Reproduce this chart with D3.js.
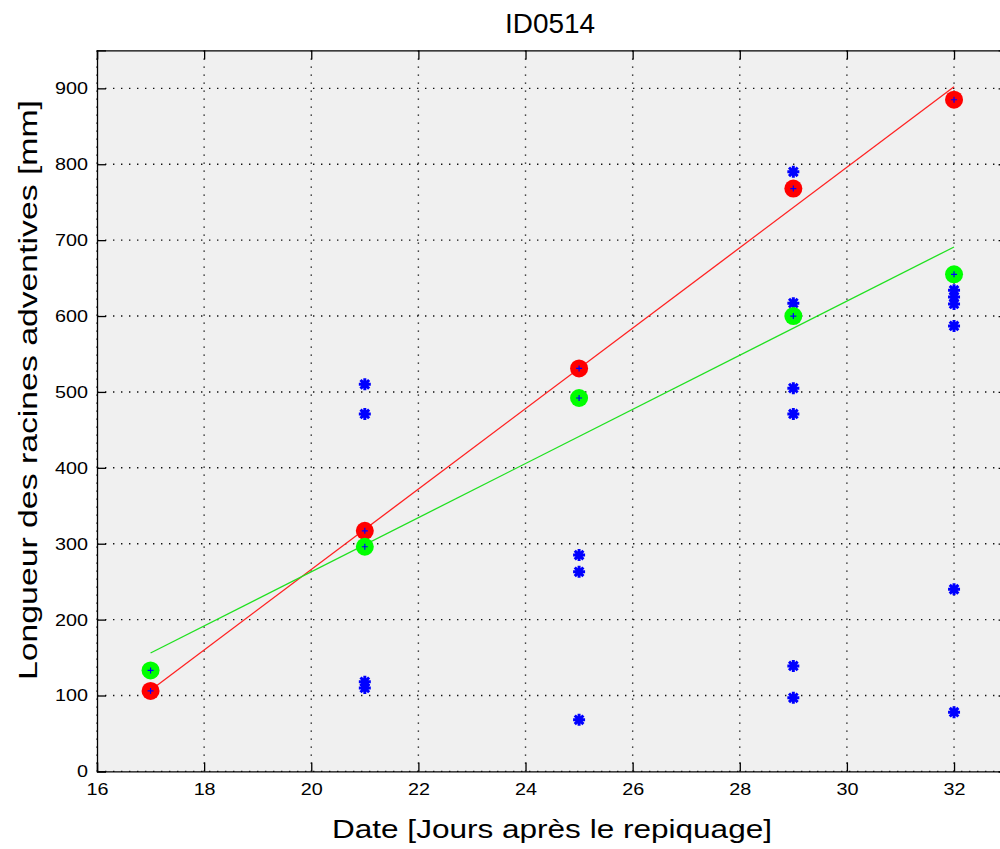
<!DOCTYPE html>
<html>
<head>
<meta charset="utf-8">
<script src="https://cdn.jsdelivr.net/npm/d3@7"></script>
<style>
  body { margin: 0; background: #fff; }
  svg { display: block; }
  text { font-family: "Liberation Sans", Arial, sans-serif; fill: #000; }
</style>
</head>
<body>
<script>
// data
var days = [17, 21, 25, 29, 32];
var redVals = [106, 317, 531, 768, 885];
var greenVals = [133, 296, 492, 600, 655];
var blueDays = [21, 21, 21, 21, 25, 25, 25, 29, 29, 29, 29, 29, 29, 32, 32, 32, 32, 32, 32];
var blueVals = [510, 471, 118, 110, 285, 263, 68, 790, 617, 505, 471, 139, 97, 634, 625, 616, 587, 240, 78];
var redFit = [[17, 107], [32, 902]];
var greenFit = [[17, 156], [32, 691]];
var xTicks = [16, 18, 20, 22, 24, 26, 28, 30, 32];
var yTicks = [0, 100, 200, 300, 400, 500, 600, 700, 800, 900];

var W = 1000, H = 849;
var pl = 97, pr = 1007.6, pt = 50.4, pb = 771.4;

var svg = d3.select('body').append('svg').attr('width', W).attr('height', H);

var x = d3.scaleLinear().domain([16, 33]).range([pl, pr]);
var y = d3.scaleLinear().domain([0, 950]).range([pb, pt]);

// plot background
svg.append('rect')
  .attr('x', pl).attr('y', pt)
  .attr('width', pr - pl).attr('height', pb - pt)
  .attr('fill', '#f0f0f0');

// dotted grid
var grid = svg.append('g').attr('stroke', '#111').attr('stroke-width', 1.4).attr('stroke-dasharray', '1.4,6.6');
grid.selectAll('.gx').data(xTicks).enter().append('line')
  .attr('x1', function(d) { return x(d); }).attr('x2', function(d) { return x(d); })
  .attr('y1', pt).attr('y2', pb);
grid.selectAll('.gy').data(yTicks).enter().append('line')
  .attr('y1', function(d) { return y(d); }).attr('y2', function(d) { return y(d); })
  .attr('x1', pl).attr('x2', pr);

// axes, ticks inward
var tickLen = 9;
var xAxis = svg.append('g').attr('transform', 'translate(0,' + pb + ')')
  .call(d3.axisBottom(x).tickValues(xTicks).tickSize(-tickLen).tickPadding(11).tickFormat(d3.format('d')));
var xTop = svg.append('g').attr('transform', 'translate(0,' + pt + ')')
  .call(d3.axisTop(x).tickValues(xTicks).tickSize(-tickLen).tickFormat(''));
var yAxis = svg.append('g').attr('transform', 'translate(' + pl + ',0)')
  .call(d3.axisLeft(y).tickValues(yTicks).tickSize(-tickLen).tickPadding(9).tickFormat(d3.format('d')));
var yRight = svg.append('g').attr('transform', 'translate(' + pr + ',0)')
  .call(d3.axisRight(y).tickValues(yTicks).tickSize(-tickLen).tickFormat(''));

[xAxis, xTop, yAxis, yRight].forEach(function(a) {
  a.select('.domain').attr('stroke', '#000').attr('stroke-width', 1.3);
  a.selectAll('.tick line').attr('stroke', '#000').attr('stroke-width', 1.3);
  a.selectAll('.tick text').attr('font-size', 17).attr('fill', '#222')
    .attr('font-family', '"Liberation Sans", Arial, sans-serif')
    .attr('lengthAdjust', 'spacingAndGlyphs')
    .attr('textLength', function(d) { return String(d).length * 11; });
});
xAxis.selectAll('.tick text').attr('dy', '0.72em');

// fit lines
var line = d3.line().x(function(d) { return x(d[0]); }).y(function(d) { return y(d[1]); });
svg.append('path').datum(redFit).attr('d', line).attr('fill', 'none').attr('stroke', '#ff2020').attr('stroke-width', 1.3);
svg.append('path').datum(greenFit).attr('d', line).attr('fill', 'none').attr('stroke', '#20e020').attr('stroke-width', 1.3);

// blue asterisks
var s = 6;
var star = 'M' + (-s) + ',0L' + s + ',0M0,' + (-s) + 'L0,' + s +
  'M' + (-s * 0.72) + ',' + (-s * 0.72) + 'L' + (s * 0.72) + ',' + (s * 0.72) +
  'M' + (-s * 0.72) + ',' + (s * 0.72) + 'L' + (s * 0.72) + ',' + (-s * 0.72);
svg.selectAll('.star').data(blueVals).enter().append('path')
  .attr('transform', function(d, i) { return 'translate(' + x(blueDays[i]) + ',' + y(d) + ')'; })
  .attr('d', star).attr('stroke', '#0000ff').attr('stroke-width', 3).attr('fill', 'none');

// red and green circles
svg.selectAll('.red').data(redVals).enter().append('circle')
  .attr('cx', function(d, i) { return x(days[i]); }).attr('cy', function(d) { return y(d); })
  .attr('r', 9).attr('fill', '#ff0000');
svg.selectAll('.green').data(greenVals).enter().append('circle')
  .attr('cx', function(d, i) { return x(days[i]); }).attr('cy', function(d) { return y(d); })
  .attr('r', 9).attr('fill', '#00ff00');

// small blue plus at the circle centres
var plus = 'M-3,0L3,0M0,-3L0,3';
svg.selectAll('.pc').data(redVals.concat(greenVals)).enter().append('path')
  .attr('transform', function(d, i) { return 'translate(' + x(days[i % days.length]) + ',' + y(d) + ')'; })
  .attr('d', plus).attr('stroke', '#0000ff').attr('stroke-width', 1.2);

// titles
svg.append('text').attr('x', 550).attr('y', 33).attr('text-anchor', 'middle')
  .attr('font-size', 28).attr('lengthAdjust', 'spacingAndGlyphs').attr('textLength', 90).text('ID0514');
svg.append('text').attr('x', 552).attr('y', 838).attr('text-anchor', 'middle')
  .attr('font-size', 25).attr('lengthAdjust', 'spacingAndGlyphs').attr('textLength', 440).text('Date [Jours après le repiquage]');
svg.append('text').attr('transform', 'translate(37,390) rotate(-90)').attr('text-anchor', 'middle')
  .attr('font-size', 26).attr('lengthAdjust', 'spacingAndGlyphs').attr('textLength', 580).text('Longueur des racines adventives [mm]');
</script>
</body>
</html>
